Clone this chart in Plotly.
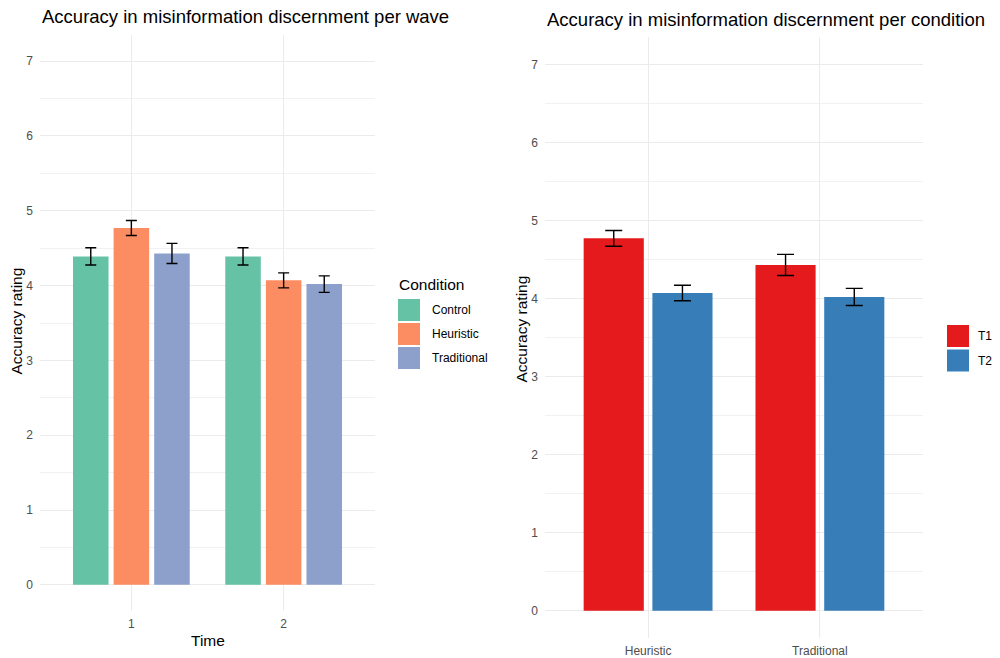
import plotly.graph_objects as go

# Mean accuracy rating per wave and condition, with standard errors
waves = ["1", "2"]
conditions = ["Control", "Heuristic", "Traditional"]
wave_means = {
    "Control": [4.39, 4.39],
    "Heuristic": [4.77, 4.07],
    "Traditional": [4.43, 4.02],
}
wave_errors = {
    "Control": [0.115, 0.115],
    "Heuristic": [0.10, 0.10],
    "Traditional": [0.135, 0.11],
}

# Same data regrouped by intervention condition
interventions = ["Heuristic", "Traditional"]
times = ["T1", "T2"]
cond_means = {
    "T1": [4.77, 4.43],
    "T2": [4.07, 4.02],
}
cond_errors = {
    "T1": [0.10, 0.135],
    "T2": [0.10, 0.11],
}

cond_colors = {"Control": "#66C2A5", "Heuristic": "#FC8D62", "Traditional": "#8DA0CB"}
time_colors = {"T1": "#E41A1C", "T2": "#377EB8"}

FONT = "Liberation Sans, Arial, Helvetica, sans-serif"
GRID = "#EBEBEB"
MINOR = "#F1F1F1"
TICK = "#4D4D4D"

fig = go.Figure()

for c in conditions:
    fig.add_trace(go.Bar(
        x=waves, y=wave_means[c], name=c, marker_color=cond_colors[c],
        marker_line_width=0, xaxis="x", yaxis="y", showlegend=False,
        error_y=dict(type="data", array=wave_errors[c], color="black",
                     thickness=1.4, width=5.5),
    ))

for t in times:
    fig.add_trace(go.Bar(
        x=interventions, y=cond_means[t], name=t, marker_color=time_colors[t],
        marker_line_width=0, xaxis="x2", yaxis="y2", showlegend=False,
        error_y=dict(type="data", array=cond_errors[t], color="black",
                     thickness=1.4, width=8.5),
    ))

H = 658.0
W = 1000.0

def ydom(top_px, bottom_px):
    return [1 - bottom_px / H, 1 - top_px / H]

yaxis_common = dict(
    range=[-0.35, 7.35], dtick=1, tick0=0, showgrid=True, gridcolor=GRID,
    gridwidth=1, zeroline=False, showline=False, ticks="",
    tickfont=dict(family=FONT, size=12, color=TICK), ticklabelstandoff=6,
    minor=dict(dtick=0.5, tick0=0, showgrid=True, gridcolor=MINOR, gridwidth=1),
)
xaxis_common = dict(
    type="category", range=[-0.6, 1.6], showgrid=True, gridcolor=GRID,
    gridwidth=1, zeroline=False, showline=False, ticks="",
    tickfont=dict(family=FONT, size=12, color=TICK), ticklabelstandoff=4,
)

fig.update_layout(
    width=1000, height=658, autosize=False,
    margin=dict(l=0, r=0, t=0, b=0),
    paper_bgcolor="white", plot_bgcolor="white",
    barmode="group", bargap=0.2, bargroupgap=0.125,
    font=dict(family=FONT, color="black"),
    xaxis=dict(xaxis_common, domain=[40 / W, 375 / W], anchor="y"),
    yaxis=dict(yaxis_common, domain=ydom(35, 611), anchor="x"),
    xaxis2=dict(xaxis_common, domain=[545 / W, 923 / W], anchor="y2"),
    yaxis2=dict(yaxis_common, domain=ydom(37, 638), anchor="x2"),
)

annotations = [
    dict(text="Accuracy in misinformation discernment per wave", x=40 / W, y=1 - 16 / H,
         xanchor="left", yanchor="middle", font=dict(size=18.5)),
    dict(text="Accuracy in misinformation discernment per condition", x=545 / W, y=1 - 19 / H,
         xanchor="left", yanchor="middle", font=dict(size=18.5)),
    dict(text="Accuracy rating", x=16 / W, y=1 - 321.5 / H, textangle=-90,
         xanchor="center", yanchor="middle", font=dict(size=15.5)),
    dict(text="Accuracy rating", x=521 / W, y=1 - 329.5 / H, textangle=-90,
         xanchor="center", yanchor="middle", font=dict(size=15.5)),
    dict(text="Time", x=207.5 / W, y=1 - 640 / H,
         xanchor="center", yanchor="middle", font=dict(size=15.5)),
    dict(text="Condition", x=397 / W, y=1 - 285 / H,
         xanchor="left", yanchor="middle", font=dict(size=15.5)),
]

shapes = []
# Legend keys for the wave panel
for i, c in enumerate(conditions):
    top = 299 + i * 24
    shapes.append(dict(type="rect", xref="paper", yref="paper",
                       x0=398 / W, x1=420 / W, y0=1 - (top + 22) / H, y1=1 - top / H,
                       fillcolor=cond_colors[c], line=dict(width=0)))
    annotations.append(dict(text=c, x=430 / W, y=1 - (top + 11) / H,
                            xanchor="left", yanchor="middle", font=dict(size=12)))
# Legend keys for the condition panel
for i, t in enumerate(times):
    top = 325 + i * 24.5
    shapes.append(dict(type="rect", xref="paper", yref="paper",
                       x0=947 / W, x1=969 / W, y0=1 - (top + 22) / H, y1=1 - top / H,
                       fillcolor=time_colors[t], line=dict(width=0)))
    annotations.append(dict(text=t, x=976 / W, y=1 - (top + 11) / H,
                            xanchor="left", yanchor="middle", font=dict(size=12)))

for a in annotations:
    a.update(xref="paper", yref="paper", showarrow=False)
    a["font"] = dict(a["font"], family=FONT, color="black")

fig.update_layout(annotations=annotations, shapes=shapes)

fig.write_html("out.html")
